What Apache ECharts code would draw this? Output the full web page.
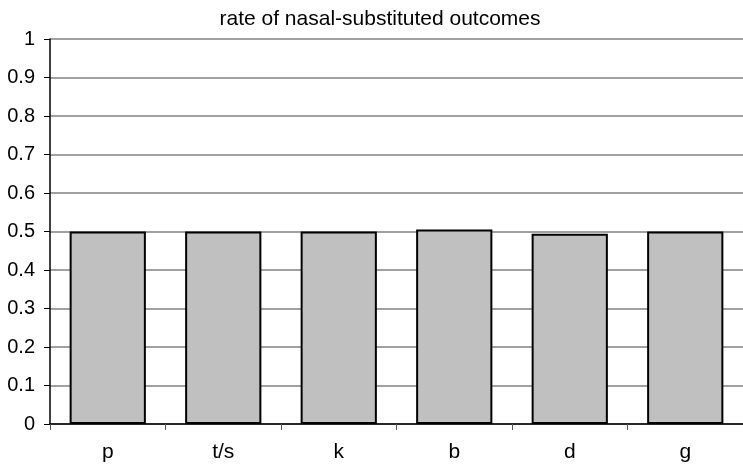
<!DOCTYPE html>
<html>
<head>
<meta charset="utf-8">
<script src="https://cdn.jsdelivr.net/npm/echarts@6/dist/echarts.min.js"></script>
<style>
  html, body { margin: 0; padding: 0; background: #fff; }
  #chart { width: 743px; height: 468px; }
</style>
</head>
<body>
<div id="chart"></div>
<script>
const categories = ['p', 't/s', 'k', 'b', 'd', 'g']
const rates = [0.5, 0.5, 0.5, 0.505, 0.494, 0.5]
const yTicks = { min: 0, max: 1, interval: 0.1 }

const chart = echarts.init(document.getElementById('chart'))
chart.setOption({
  animation: false,
  title: {
    text: 'rate of nasal-substituted outcomes',
    left: 375,
    textAlign: 'center',
    top: 4,
    textStyle: { fontFamily: 'Liberation Sans', fontSize: 21, fontWeight: 'normal', color: '#000' }
  },
  grid: { left: 50, top: 39, width: 700, height: 385 },
  xAxis: {
    type: 'category',
    data: categories,
    axisLine: { lineStyle: { color: '#000', width: 1.5 } },
    axisTick: { show: true, length: 6, lineStyle: { color: '#555' } },
    axisLabel: { fontFamily: 'Liberation Sans', fontSize: 21, color: '#000', margin: 18 }
  },
  yAxis: {
    type: 'value',
    min: yTicks.min,
    max: yTicks.max,
    interval: yTicks.interval,
    axisLine: { show: true, lineStyle: { color: '#000', width: 1.5 } },
    axisTick: { show: true, length: 6, lineStyle: { color: '#000' } },
    axisLabel: { fontFamily: 'Liberation Sans', fontSize: 20, color: '#000', margin: 15 },
    splitLine: { lineStyle: { color: '#808080', width: 1.5 } }
  },
  series: [{
    type: 'bar',
    data: rates,
    barCategoryGap: '34%',
    itemStyle: { color: '#c0c0c0', borderColor: '#000', borderWidth: 2 }
  }]
})
</script>
</body>
</html>
